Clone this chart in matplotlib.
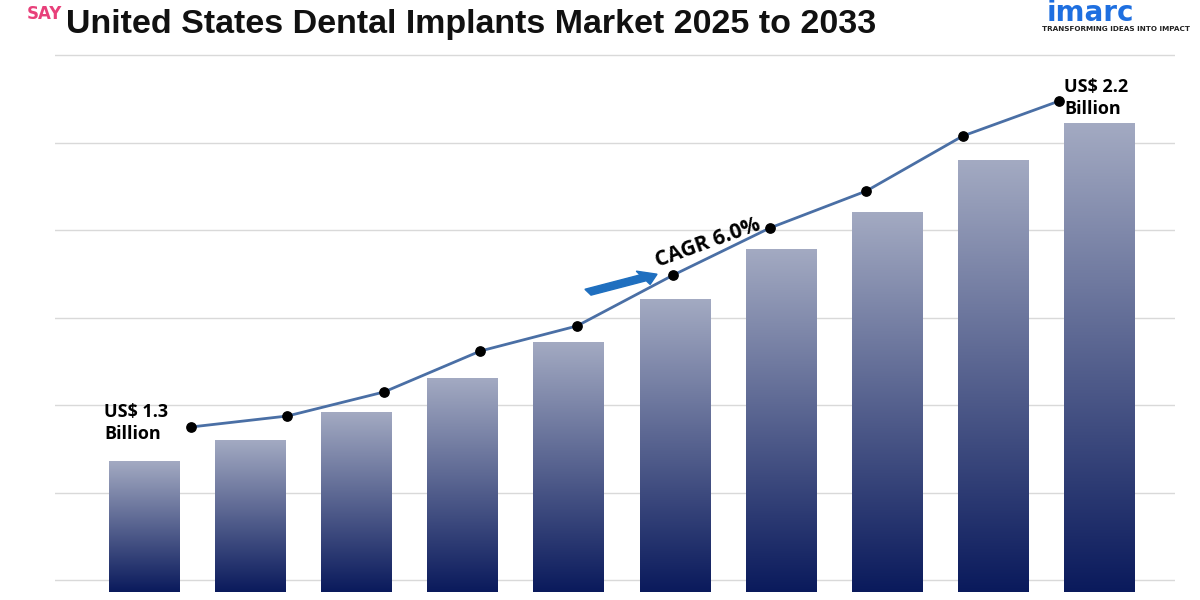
import numpy as np
import matplotlib
matplotlib.use("Agg")
import matplotlib.pyplot as plt
from matplotlib.colors import LinearSegmentedColormap

years = [2024, 2025, 2026, 2027, 2028, 2029, 2030, 2031, 2032, 2033]
bar_values = [131, 152, 180, 214, 250, 293, 343, 380, 432, 469]
line_values = [165, 176, 200, 241, 266, 317, 364, 401, 456, 491]
grid_levels = [12, 99.5, 187, 274.5, 362, 449.5, 537]

fig = plt.figure(figsize=(12, 6), dpi=100)
L, R = 55/1200, 1175/1200
B, T = 8/600, 560/600
ax = fig.add_axes([L, B, R-L, T-B])
for g in grid_levels:
    ax.axhline(g, color="#d9d9d9", lw=1, zorder=0)
cmap = LinearSegmentedColormap.from_list("g", ["#0a1a5c", "#a3aac2"])
grad = np.linspace(0, 1, 256).reshape(-1, 1)
w = 0.66
for i, v in enumerate(bar_values):
    ax.imshow(grad, extent=(i-w/2, i+w/2, 0, v), origin="lower", cmap=cmap,
              aspect="auto", zorder=2)
ax.set_xlim(-0.839, 9.717)
ax.set_ylim(0, 552)
ax.axis("off")

ax2 = fig.add_axes([L, B, R-L, T-B])
ax2.set_xlim(-1.41, 10.2)
ax2.set_ylim(0, 552)
ax2.axis("off")
ax2.plot(range(len(line_values)), line_values, color="#4a6fa5", lw=2, zorder=3)
ax2.scatter(range(len(line_values)), line_values, color="black", s=45, zorder=4)

lab = dict(fontsize=13, fontweight="bold", family="Open Sans", linespacing=1.3)
fig.text(0.087, 0.295, "US$ 1.3\nBillion", ha="left", va="center", **lab)
fig.text(0.887, 0.837, "US$ 2.2\nBillion", ha="left", va="center", **lab)
fig.text(0.59, 0.595, "CAGR 6.0%", fontsize=15, fontweight="bold", rotation=20,
         family="Open Sans", ha="center", va="center")
fig.patches.append(matplotlib.patches.FancyArrow(
    0.49, 0.513, 0.046, 0.024, width=0.011, head_width=0.025, head_length=0.013,
    color="#1f6fbf", transform=fig.transFigure, figure=fig))

fig.text(0.055, 0.96, "United States Dental Implants Market 2025 to 2033",
         fontsize=24.5, fontweight="bold", family="Liberation Sans",
         ha="left", va="center", color="#111111")
fig.text(0.022, 0.976, "SAY", fontsize=12, fontweight="bold", color="#e8407a",
         ha="left", va="center")
fig.text(0.872, 0.978, "imarc", fontsize=20, fontweight="bold", color="#1e6fe0",
         ha="left", va="center")
fig.text(0.868, 0.951, "TRANSFORMING IDEAS INTO IMPACT", fontsize=5.2,
         fontweight="bold", color="#222222", ha="left", va="center")

fig.savefig("out.png", dpi=100)
